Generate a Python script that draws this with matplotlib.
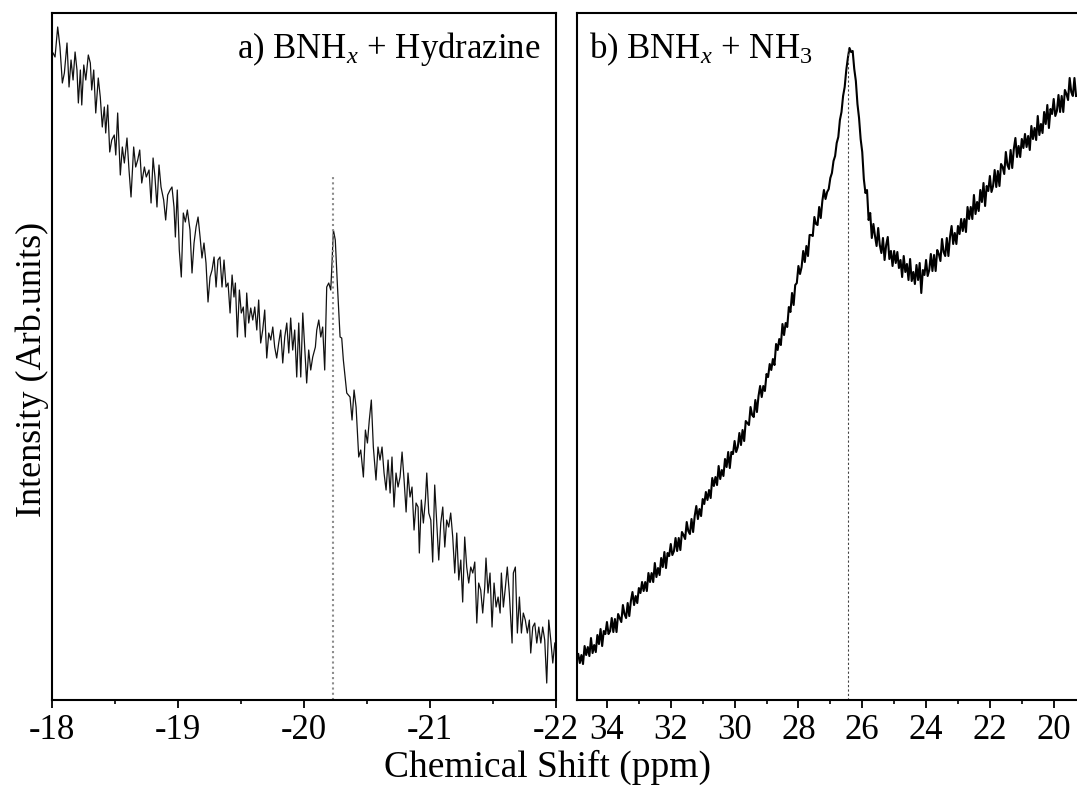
import numpy as np
from matplotlib import pyplot as plt
from matplotlib.ticker import MultipleLocator

plt.rcParams['font.family'] = ['Liberation Serif', 'DejaVu Serif']
plt.rcParams['mathtext.fontset'] = 'custom'
plt.rcParams['mathtext.rm'] = 'Liberation Serif'
plt.rcParams['mathtext.it'] = 'Liberation Serif:italic'
plt.rcParams['axes.unicode_minus'] = False

# a) BNHx + Hydrazine  (chemical shift in ppm, intensity in arb. units)
shift_a = [-18.008, -18.024, -18.045, -18.063, -18.082, -18.098, -18.119, -18.135, -18.151, -18.167,
           -18.183, -18.198, -18.209, -18.225, -18.236, -18.252, -18.268, -18.288, -18.304, -18.315,
           -18.331, -18.347, -18.367, -18.383, -18.399, -18.415, -18.426, -18.442, -18.458, -18.474,
           -18.494, -18.506, -18.521, -18.542, -18.558, -18.574, -18.595, -18.611, -18.627, -18.648,
           -18.664, -18.680, -18.696, -18.712, -18.733, -18.748, -18.770, -18.786, -18.802, -18.817,
           -18.833, -18.849, -18.865, -18.886, -18.902, -18.918, -18.937, -18.952, -18.968, -18.979,
           -18.994, -19.010, -19.026, -19.042, -19.058, -19.074, -19.095, -19.111, -19.127, -19.143,
           -19.159, -19.175, -19.190, -19.206, -19.222, -19.238, -19.254, -19.270, -19.286, -19.302,
           -19.317, -19.333, -19.349, -19.365, -19.381, -19.397, -19.413, -19.429, -19.444, -19.455,
           -19.471, -19.487, -19.502, -19.518, -19.534, -19.545, -19.561, -19.577, -19.593, -19.609,
           -19.625, -19.640, -19.656, -19.672, -19.688, -19.704, -19.720, -19.736, -19.752, -19.767,
           -19.783, -19.799, -19.815, -19.831, -19.847, -19.863, -19.879, -19.894, -19.910, -19.926,
           -19.942, -19.958, -19.974, -19.990, -20.006, -20.021, -20.037, -20.053, -20.069, -20.090,
           -20.101, -20.117, -20.133, -20.148, -20.164, -20.180, -20.196, -20.212, -20.222, -20.233,
           -20.248, -20.264, -20.286, -20.299, -20.312, -20.328, -20.339, -20.365, -20.381, -20.397,
           -20.413, -20.434, -20.450, -20.471, -20.487, -20.503, -20.518, -20.534, -20.550, -20.571,
           -20.587, -20.603, -20.619, -20.635, -20.651, -20.667, -20.683, -20.698, -20.714, -20.730,
           -20.746, -20.762, -20.778, -20.794, -20.810, -20.825, -20.841, -20.857, -20.873, -20.889,
           -20.905, -20.915, -20.931, -20.947, -20.963, -20.974, -20.990, -21.006, -21.021, -21.037,
           -21.053, -21.069, -21.085, -21.101, -21.117, -21.132, -21.148, -21.164, -21.180, -21.196,
           -21.212, -21.228, -21.244, -21.259, -21.275, -21.291, -21.307, -21.323, -21.339, -21.355,
           -21.371, -21.386, -21.402, -21.418, -21.434, -21.444, -21.460, -21.476, -21.492, -21.508,
           -21.524, -21.540, -21.556, -21.566, -21.582, -21.598, -21.613, -21.629, -21.651, -21.661,
           -21.677, -21.693, -21.709, -21.725, -21.740, -21.756, -21.772, -21.788, -21.799, -21.815,
           -21.831, -21.847, -21.863, -21.879, -21.894, -21.910, -21.926, -21.942, -21.958, -21.974,
           -21.990]
intens_a = [647, 643, 673, 653, 617, 627, 657, 613, 640, 620,
            648, 630, 597, 630, 595, 635, 620, 645, 637, 610,
            630, 587, 622, 603, 573, 593, 567, 595, 548, 560,
            565, 545, 587, 525, 553, 537, 562, 530, 503, 553,
            533, 540, 550, 517, 533, 523, 530, 497, 542, 523,
            493, 535, 513, 500, 480, 505, 510, 513, 493, 463,
            510, 450, 423, 487, 478, 490, 470, 427, 457, 473,
            483, 463, 442, 457, 437, 398, 423, 430, 443, 413,
            440, 443, 413, 440, 413, 417, 387, 425, 403, 417,
            363, 410, 387, 393, 363, 407, 377, 392, 380, 393,
            370, 400, 357, 370, 390, 342, 367, 360, 373, 353,
            342, 357, 370, 337, 363, 377, 347, 382, 350, 370,
            323, 377, 323, 387, 350, 317, 350, 330, 343, 353,
            370, 380, 363, 373, 330, 413, 417, 410, 437, 470,
            460, 417, 363, 362, 340, 320, 307, 303, 280, 310,
            293, 243, 250, 223, 270, 257, 280, 300, 253, 220,
            253, 240, 253, 227, 210, 240, 207, 243, 193, 227,
            213, 223, 248, 220, 188, 227, 203, 213, 170, 197,
            193, 147, 200, 177, 200, 227, 187, 180, 138, 215,
            177, 140, 177, 193, 153, 180, 173, 187, 163, 127,
            167, 120, 140, 98, 163, 133, 117, 133, 127, 138,
            77, 117, 110, 87, 113, 142, 107, 127, 73, 117,
            93, 103, 87, 127, 93, 113, 133, 107, 57, 127,
            133, 67, 103, 67, 87, 80, 67, 80, 47, 73,
            77, 57, 73, 57, 73, 60, 17, 80, 60, 37,
            57]

# b) BNHx + NH3
shift_b = [34.90, 34.85, 34.80, 34.75, 34.70, 34.65, 34.60, 34.55, 34.50, 34.45,
           34.40, 34.35, 34.30, 34.25, 34.20, 34.15, 34.10, 34.05, 34.00, 33.95,
           33.90, 33.85, 33.80, 33.75, 33.70, 33.65, 33.60, 33.55, 33.50, 33.45,
           33.40, 33.35, 33.30, 33.25, 33.20, 33.15, 33.10, 33.05, 33.00, 32.95,
           32.90, 32.85, 32.80, 32.75, 32.70, 32.65, 32.60, 32.55, 32.50, 32.45,
           32.40, 32.35, 32.30, 32.25, 32.20, 32.15, 32.10, 32.05, 32.00, 31.95,
           31.90, 31.85, 31.80, 31.75, 31.70, 31.65, 31.60, 31.55, 31.50, 31.45,
           31.40, 31.35, 31.30, 31.25, 31.20, 31.15, 31.10, 31.05, 31.00, 30.95,
           30.90, 30.85, 30.80, 30.75, 30.70, 30.65, 30.60, 30.55, 30.50, 30.45,
           30.40, 30.35, 30.30, 30.25, 30.20, 30.15, 30.10, 30.05, 30.00, 29.95,
           29.90, 29.85, 29.80, 29.75, 29.70, 29.65, 29.60, 29.55, 29.50, 29.45,
           29.40, 29.35, 29.30, 29.25, 29.20, 29.15, 29.10, 29.05, 29.00, 28.95,
           28.90, 28.85, 28.80, 28.75, 28.70, 28.65, 28.60, 28.55, 28.50, 28.45,
           28.40, 28.35, 28.30, 28.25, 28.20, 28.15, 28.10, 28.05, 28.00, 27.95,
           27.90, 27.85, 27.80, 27.75, 27.70, 27.65, 27.60, 27.55, 27.50, 27.45,
           27.40, 27.35, 27.30, 27.25, 27.20, 27.15, 27.10, 27.05, 27.00, 26.95,
           26.90, 26.85, 26.80, 26.75, 26.70, 26.65, 26.60, 26.55, 26.50, 26.45,
           26.40, 26.35, 26.30, 26.25, 26.20, 26.15, 26.10, 26.05, 26.00, 25.95,
           25.90, 25.85, 25.80, 25.75, 25.70, 25.65, 25.60, 25.55, 25.50, 25.45,
           25.40, 25.35, 25.30, 25.25, 25.20, 25.15, 25.10, 25.05, 25.00, 24.95,
           24.90, 24.85, 24.80, 24.75, 24.70, 24.65, 24.60, 24.55, 24.50, 24.45,
           24.40, 24.35, 24.30, 24.25, 24.20, 24.15, 24.10, 24.05, 24.00, 23.95,
           23.90, 23.85, 23.80, 23.75, 23.70, 23.65, 23.60, 23.55, 23.50, 23.45,
           23.40, 23.35, 23.30, 23.25, 23.20, 23.15, 23.10, 23.05, 23.00, 22.95,
           22.90, 22.85, 22.80, 22.75, 22.70, 22.65, 22.60, 22.55, 22.50, 22.45,
           22.40, 22.35, 22.30, 22.25, 22.20, 22.15, 22.10, 22.05, 22.00, 21.95,
           21.90, 21.85, 21.80, 21.75, 21.70, 21.65, 21.60, 21.55, 21.50, 21.45,
           21.40, 21.35, 21.30, 21.25, 21.20, 21.15, 21.10, 21.05, 21.00, 20.95,
           20.90, 20.85, 20.80, 20.75, 20.70, 20.65, 20.60, 20.55, 20.50, 20.45,
           20.40, 20.35, 20.30, 20.25, 20.20, 20.15, 20.10, 20.05, 20.00, 19.95,
           19.90, 19.85, 19.80, 19.75, 19.70, 19.65, 19.60, 19.55, 19.50, 19.45,
           19.40, 19.35, 19.30]
intens_b = [46, 37, 45, 36, 54, 45, 53, 44, 62, 47,
            55, 48, 65, 56, 71, 54, 69, 66, 78, 66,
            69, 82, 68, 81, 68, 86, 82, 78, 95, 86,
            82, 97, 84, 99, 108, 95, 104, 97, 112, 107,
            118, 109, 118, 109, 127, 118, 127, 118, 137, 123,
            132, 125, 142, 133, 148, 132, 147, 144, 156, 145,
            149, 162, 149, 162, 150, 168, 165, 161, 178, 169,
            166, 181, 168, 184, 194, 181, 191, 184, 201, 196,
            208, 200, 210, 202, 222, 214, 223, 215, 234, 221,
            230, 224, 241, 233, 248, 232, 248, 246, 259, 248,
            253, 267, 255, 270, 259, 279, 277, 275, 293, 285,
            283, 300, 288, 304, 314, 303, 314, 309, 326, 323,
            336, 330, 341, 335, 356, 350, 361, 355, 376, 365,
            377, 373, 393, 388, 407, 395, 415, 417, 434, 426,
            433, 449, 438, 454, 444, 465, 465, 464, 483, 476,
            475, 493, 482, 499, 510, 501, 508, 511, 522, 527,
            539, 544, 557, 563, 580, 588, 604, 613, 630, 642,
            652, 648, 649, 631, 619, 596, 582, 561, 548, 521,
            507, 510, 480, 487, 462, 476, 464, 454, 472, 455,
            447, 462, 440, 455, 463, 441, 449, 434, 449, 437,
            448, 432, 440, 423, 444, 428, 436, 420, 441, 419,
            428, 416, 435, 420, 437, 407, 430, 425, 440, 424,
            430, 446, 429, 445, 429, 450, 446, 439, 461, 448,
            444, 462, 444, 463, 474, 456, 467, 456, 474, 466,
            481, 469, 481, 468, 493, 481, 493, 481, 505, 486,
            498, 489, 510, 498, 517, 494, 514, 509, 524, 508,
            514, 530, 513, 529, 514, 536, 533, 526, 548, 535,
            531, 550, 532, 551, 562, 543, 554, 543, 561, 552,
            566, 553, 564, 550, 574, 561, 572, 560, 584, 565,
            576, 567, 588, 576, 595, 572, 591, 586, 601, 584,
            589, 605, 588, 604, 588, 610, 606, 600, 622, 608,
            604, 622, 604]

peak_a = -20.23
peak_b = 26.45

fig = plt.figure(figsize=(10.77, 7.87), dpi=100)
ax1 = fig.add_axes([0.0483, 0.1105, 0.468, 0.873])
ax2 = fig.add_axes([0.5357, 0.1105, 0.4643, 0.873])

ax1.plot(shift_a, intens_a, color='#111111', lw=0.9)
ax1.vlines(peak_a, 0, 525, colors='#8c8c8c', linestyles=(0, (1, 1.5)), lw=1.5)
ax1.set_xlim(-18, -22)
ax1.xaxis.set_major_locator(MultipleLocator(1))
ax1.xaxis.set_minor_locator(MultipleLocator(0.5))
ax1.text(0.97, 0.975, r'a) BNH$_{\mathit{x}}$ + Hydrazine', transform=ax1.transAxes,
         ha='right', va='top', fontsize=25)

ax2.plot(shift_b, intens_b, color='black', lw=1.5)
ax2.vlines(peak_b, 0, 652, colors='#444444', linestyles=(0, (2, 2)), lw=0.8)
ax2.set_xlim(34.94, 19.27)
ax2.xaxis.set_major_locator(MultipleLocator(2))
ax2.xaxis.set_minor_locator(MultipleLocator(1))
ax2.spines['right'].set_visible(False)
ax2.text(0.025, 0.975, r'b) BNH$_{\mathit{x}}$ + NH$_3$', transform=ax2.transAxes,
         ha='left', va='top', fontsize=25)

for ax in (ax1, ax2):
    ax.set_ylim(0, 687)
    ax.set_yticks([])
    for s in ax.spines.values():
        s.set_linewidth(1.5)
    ax.tick_params(axis='x', which='major', direction='out', length=6, width=1.3,
                   labelsize=25, pad=4)
    ax.tick_params(axis='x', which='minor', direction='out', length=3, width=1.2)

fig.text(0.508, 0.002, 'Chemical Shift (ppm)', ha='center', va='bottom', fontsize=27)
fig.text(0.03, 0.53, 'Intensity (Arb.units)', ha='center', va='center',
         rotation=90, fontsize=26)

plt.savefig('out.png', dpi=100)
